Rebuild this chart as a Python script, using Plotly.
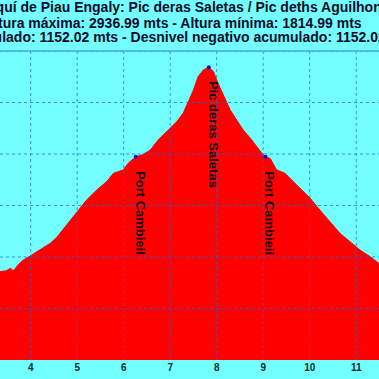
import plotly.graph_objects as go

# Elevation profile (km, metres)
km = [3.34, 3.48, 3.56, 3.63, 3.73, 3.84, 3.99, 4.20, 4.42, 4.56, 4.77, 4.99,
      5.20, 5.42, 5.63, 5.78, 5.90, 5.99, 6.10, 6.21, 6.26, 6.39, 6.57, 6.74,
      6.93, 7.14, 7.28, 7.39, 7.50, 7.60, 7.71, 7.83, 7.93, 8.03, 8.14, 8.29,
      8.43, 8.57, 8.72, 8.86, 9.00, 9.05, 9.15, 9.29, 9.47, 9.65, 9.86, 10.01,
      10.22, 10.44, 10.65, 10.87, 11.08, 11.30, 11.49]
elev = [2143, 2147, 2156, 2147, 2169, 2188, 2204, 2227, 2253, 2276, 2324, 2376,
        2421, 2460, 2492, 2525, 2531, 2538, 2565, 2584, 2589, 2596, 2615, 2654,
        2687, 2725, 2759, 2803, 2848, 2900, 2926, 2937, 2920, 2874, 2829, 2771,
        2732, 2693, 2662, 2628, 2596, 2589, 2583, 2538, 2525, 2492, 2454, 2428,
        2382, 2337, 2292, 2259, 2227, 2201, 2175]

# Waypoints
wp_names = ["Port Cambieil", "Pic deras Saletas", "Port Cambieil"]
wp_km = [6.26, 7.83, 9.05]
wp_elev = [2589, 2937, 2589]

x_ticks = [4, 5, 6, 7, 8, 9, 10, 11]
y_grid = [2000, 2200, 2400, 2600, 2800, 3000]
x_range = [3.34, 11.49]
y_range = [1800, 3000]

title_lines = [
    "Estación de Esquí de Piau Engaly: Pic deras Saletas / Pic deths Aguilhons",
    "Altura máxima: 2936.99 mts - Altura mínima: 1814.99 mts",
    "Desnivel positivo acumulado: 1152.02 mts - Desnivel negativo acumulado: 1152.02 mts",
]

BG = "#73FEFF"
GRID = "#2a5fd0"
TXT = "#0d0d2b"

fig = go.Figure()
fig.add_trace(go.Scatter(
    x=km, y=elev, mode="lines", fill="tozeroy",
    fillcolor="#FF0000", line=dict(color="#FF0000", width=1),
    hoverinfo="skip", showlegend=False))
fig.add_trace(go.Scatter(
    x=wp_km, y=wp_elev, mode="markers",
    marker=dict(color="#1010c8", size=4),
    hoverinfo="skip", showlegend=False))

shapes = []
for t in x_ticks:
    shapes.append(dict(type="line", xref="x", yref="paper", x0=t, x1=t, y0=0, y1=1,
                       line=dict(color=GRID, width=1, dash="dot"), layer="above", opacity=0.7))
for g in y_grid:
    shapes.append(dict(type="line", xref="paper", yref="y", x0=0, x1=1, y0=g, y1=g,
                       line=dict(color=GRID, width=1, dash="dot"), layer="above", opacity=0.7))
shapes.append(dict(type="line", xref="paper", yref="paper", x0=0, x1=1, y0=1, y1=1,
                   line=dict(color="#4aa6e0", width=1.5), layer="above"))

annotations = []
title_y = [1.1408, 1.0906, 1.0453]
title_x = [0.3784, 0.4562, 0.3325]
for txt, xx, yy in zip(title_lines, title_x, title_y):
    annotations.append(dict(text=txt, xref="paper", yref="paper", x=xx, y=yy,
                            xanchor="center", yanchor="middle", showarrow=False,
                            font=dict(family="Liberation Sans, Arial, sans-serif",
                                      size=14, color=TXT, weight="bold")))
for name, xk, ye in zip(wp_names, wp_km, wp_elev):
    annotations.append(dict(text=name, x=xk, y=ye, xref="x", yref="y",
                            textangle=90, showarrow=False, xanchor="center",
                            yanchor="top", xshift=4, yshift=-12,
                            font=dict(family="Liberation Sans, Arial, sans-serif",
                                      size=13, color="#1a0a0a", weight="bold")))

fig.update_layout(
    width=379, height=379,
    margin=dict(l=0, r=0, t=51, b=19, pad=0),
    paper_bgcolor=BG, plot_bgcolor=BG,
    shapes=shapes, annotations=annotations,
    xaxis=dict(range=x_range, tickvals=x_ticks, ticktext=[str(t) for t in x_ticks],
               showgrid=False, zeroline=False, showline=False, ticks="",
               tickfont=dict(family="Liberation Sans Narrow, Arial Narrow, Liberation Sans, sans-serif",
                             size=10, color="#0b2b2b", weight="bold")),
    yaxis=dict(range=y_range, showgrid=False, zeroline=False, showline=False,
               showticklabels=False, ticks=""),
)

fig.write_html("out.html", config={"displayModeBar": False},
               post_script="document.body.style.margin='0';document.body.style.overflow='hidden';")
